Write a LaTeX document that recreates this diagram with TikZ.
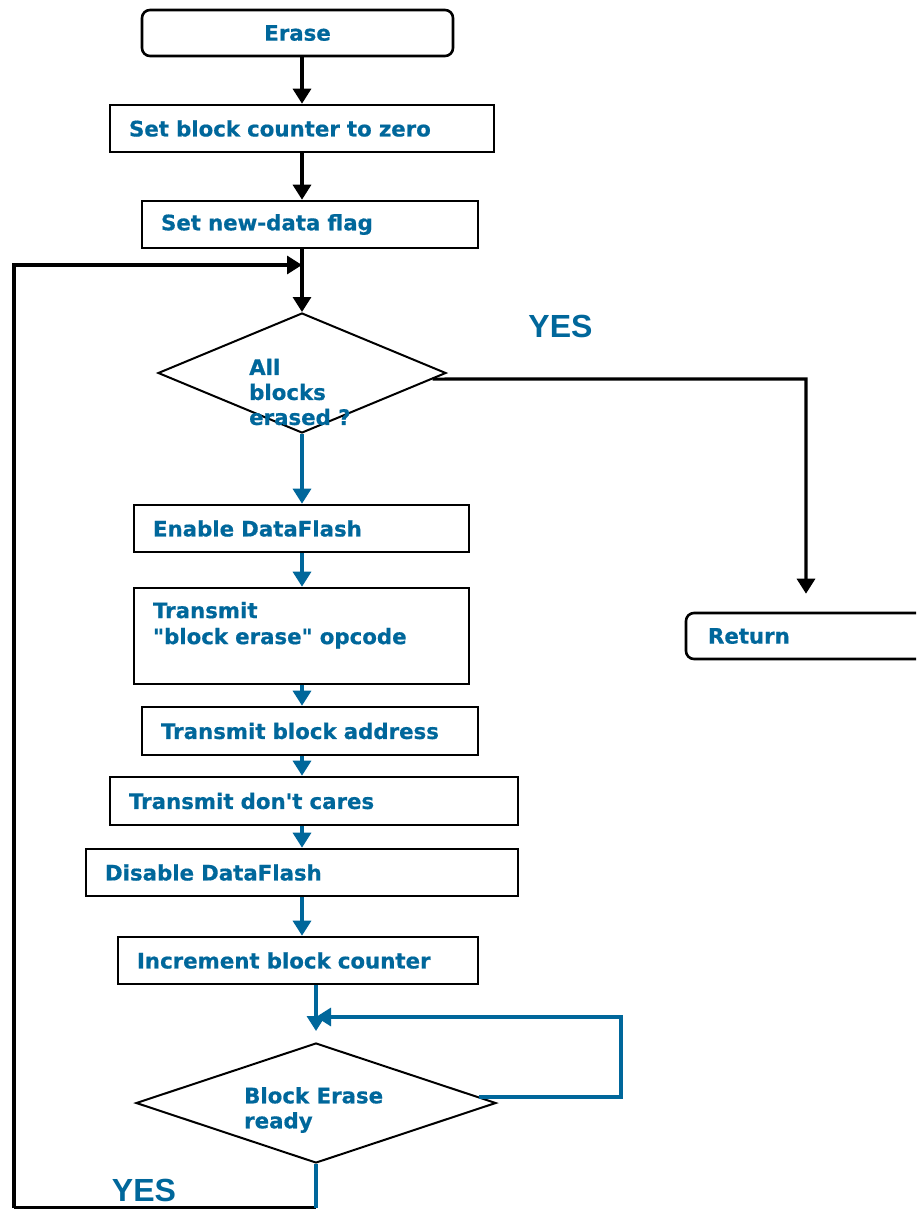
\documentclass[tikz,border=0pt]{standalone}
\usepackage{fontspec}
\newfontfamily\vfont{DejaVu Sans Bold}[Ligatures=TeXOff, FakeBold=0.6]
\newfontfamily\afont{Liberation Sans}
\usetikzlibrary{shapes.geometric,arrows.meta,calc}
\definecolor{dfblue}{RGB}{0,103,155}
\begin{document}
\begin{tikzpicture}[x=1pt,y=-1pt,
  box/.style={draw=black, line width=2.6pt, rectangle, inner xsep=19pt, inner ysep=0pt,
    align=left, font=\vfont\fontsize{21.3}{26}\selectfont, text=dfblue},
  rbox/.style={box, rounded corners=8pt},
  dec/.style={draw=black, diamond, line width=2pt, inner sep=0pt},
  dtext/.style={inner sep=0pt, align=left, font=\vfont\fontsize{21.3}{25}\selectfont, text=dfblue},
  yes/.style={inner sep=0pt, font=\afont\bfseries\fontsize{32}{38}\selectfont, text=dfblue},
  arrk/.style={draw=black, line width=3.2pt, -{Triangle[width=18pt,length=15pt]}},
  lnk/.style={draw=black, line width=3.2pt},
  arrb/.style={draw=dfblue, line width=3.2pt, -{Triangle[width=18pt,length=15pt]}},
  lnb/.style={draw=dfblue, line width=3.2pt}]
\clip (0,0) rectangle (916,1209);
\fill[white] (0,0) rectangle (916,1209);
% nodes
\node[rbox, align=center, text width=273pt, minimum height=46pt] (erase) at (297.5,33) {Erase};
\node[box, text width=346pt, minimum height=47pt] (sbc) at (302,128.5) {Set block counter to zero};
\node[box, text width=298pt, minimum height=47pt] (sdf) at (310,224.5) {Set new-data flag};
\node[dec, minimum width=288pt, minimum height=120pt] (d1) at (302,373) {};
\node[dtext, anchor=west] (d1t) at (249,392) {All\\blocks\\erased ?};
\node[yes] (y1) at (560.5,326) {YES};
\node[box, text width=297pt, minimum height=47pt] (en) at (301.5,528.5) {Enable DataFlash};
\node[box, text width=297pt, minimum height=96pt] (op) at (301.5,636) {Transmit\\"block erase" opcode\\~};
\node[box, text width=298pt, minimum height=48pt] (tba) at (310,731) {Transmit block address};
\node[box, text width=370pt, minimum height=48pt] (tdc) at (314,801) {Transmit don't cares};
\node[box, text width=394pt, minimum height=47pt] (dis) at (302,872.5) {Disable DataFlash};
\node[box, text width=322pt, minimum height=47pt] (inc) at (298,960.5) {Increment block counter};
\node[dec, minimum width=360pt, minimum height=120pt] (d2) at (316,1103) {};
\node[dtext, anchor=west] (d2t) at (244,1110) {Block Erase\\ready};
\node[yes] (y2) at (144,1190) {YES};
\node[rbox, inner xsep=22pt, text width=200pt, minimum height=46pt] (ret) at (808,636) {Return};
% helper coordinates
\coordinate (jn) at (302,265);
\coordinate (tc) at (14,265);
\coordinate (lc) at (14,1208);
\coordinate (bl) at (316,1208);
\coordinate (yc) at (806,379);
\coordinate (r1) at (621,1017);
% black connectors
\draw[arrk] (sbc.north |- erase.south) -- (sbc.north);
\draw[arrk] (sbc.south) -- (sbc.south |- sdf.north);
\draw[arrk] (d1.north |- sdf.south) -- (d1.north);
\draw[arrk] (lc) -- (tc) -- (jn);
\draw[lnk] (bl) -- (lc);
\draw[arrk, shorten >=18pt] ($(d1.east)!0.1!(d1.south)$) -- (yc) -- (yc |- ret.north);
% blue connectors
\draw[arrb] (d1.south) -- (d1.south |- en.north);
\draw[arrb] (d1.south |- en.south) -- (d1.south |- op.north);
\draw[arrb] (d1.south |- op.south) -- (d1.south |- tba.north);
\draw[arrb] (d1.south |- tba.south) -- (d1.south |- tdc.north);
\draw[arrb] (d1.south |- tdc.south) -- (d1.south |- dis.north);
\draw[arrb] (d1.south |- dis.south) -- (d1.south |- inc.north);
\draw[arrb, shorten >=11pt] (bl |- inc.south) -- (bl |- d2.north);
\draw[arrb] ($(d2.east)!0.1!(d2.north)$) -| (r1) -- (bl |- r1);
\draw[lnb] (d2.south) -- (bl);
\end{tikzpicture}
\end{document}
